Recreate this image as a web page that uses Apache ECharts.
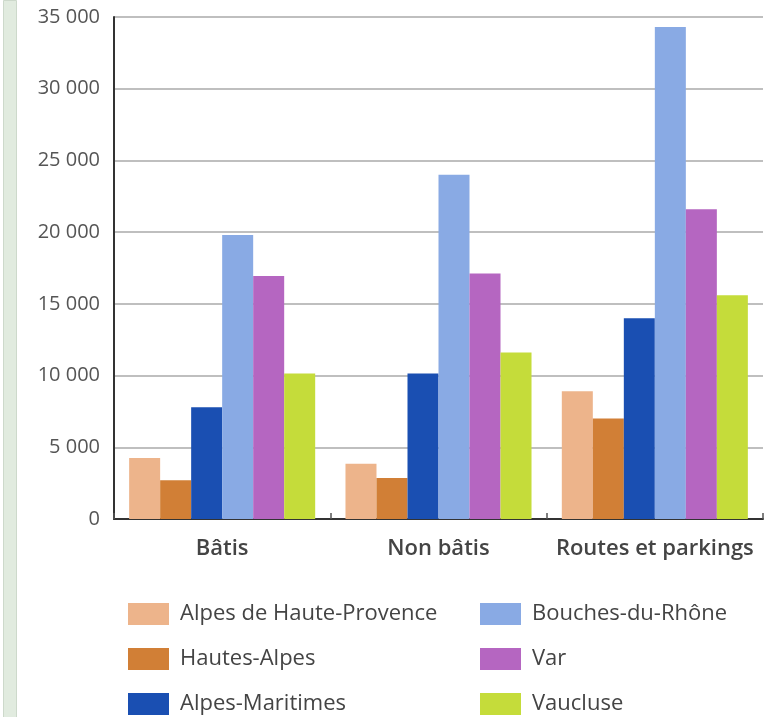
<!DOCTYPE html>
<html>
<head>
<meta charset="utf-8">
<script src="https://cdn.jsdelivr.net/npm/echarts@6/dist/echarts.min.js"></script>
<style>
  html, body { margin: 0; padding: 0; background: #fff; }
  #chart { width: 778px; height: 717px; }
</style>
</head>
<body>
<div id="chart"></div>
<script>
var categories = ['Bâtis', 'Non bâtis', 'Routes et parkings'];
var seriesNames = ['Alpes de Haute-Provence', 'Hautes-Alpes', 'Alpes-Maritimes', 'Bouches-du-Rhône', 'Var', 'Vaucluse'];
var colors = ['#edb48b', '#d17f36', '#1a4fb2', '#89aae4', '#b566c1', '#c5dc3a'];

var alpesHauteProvence = [4250, 3850, 8900];
var hautesAlpes = [2700, 2850, 7000];
var alpesMaritimes = [7800, 10150, 14000];
var bouchesDuRhone = [19800, 24000, 34300];
var varDept = [16950, 17120, 21600];
var vaucluse = [10150, 11600, 15600];

var values = [alpesHauteProvence, hautesAlpes, alpesMaritimes, bouchesDuRhone, varDept, vaucluse];

var dom = document.getElementById('chart');
var myChart = echarts.init(dom);

var textFont = '"Open Sans", "Noto Sans", sans-serif';

var series = seriesNames.map(function (name, i) {
    return {
        name: name,
        type: 'bar',
        data: values[i],
        barGap: '0%',
        barCategoryGap: '14%',
        itemStyle: { color: colors[i] }
    };
});

var legendStyle = {
    orient: 'vertical',
    top: 603,
    padding: 0,
    itemWidth: 41,
    itemHeight: 22,
    itemGap: 23,
    icon: 'rect',
    selectedMode: false,
    textStyle: { fontSize: 22, color: '#444', fontFamily: textFont, padding: [0, 0, 0, 6] }
};

var option = {
    animation: false,
    backgroundColor: '#fff',
    grid: { left: 114, right: 15, top: 17, bottom: 198 },
    legend: [
        Object.assign({ left: 128, data: seriesNames.slice(0, 3) }, legendStyle),
        Object.assign({ left: 480, data: seriesNames.slice(3) }, legendStyle)
    ],
    xAxis: {
        type: 'category',
        data: categories,
        axisLine: { lineStyle: { color: '#333', width: 2 } },
        axisTick: { show: true, inside: true, length: 6, lineStyle: { color: '#555', width: 1.5 } },
        axisLabel: { interval: 0, margin: 19, fontSize: 22, color: '#444', fontFamily: textFont, fontWeight: 600 }
    },
    yAxis: {
        type: 'value',
        min: 0,
        max: 35000,
        interval: 5000,
        axisLine: { show: true, lineStyle: { color: '#333', width: 2 } },
        axisTick: { show: false },
        splitLine: { lineStyle: { color: '#aaa', width: 1.5 } },
        axisLabel: {
            margin: 14,
            fontSize: 20,
            color: '#555',
            fontFamily: textFont,
            formatter: function (v) {
                return String(v).replace(/\B(?=(\d{3})+(?!\d))/g, ' ');
            }
        }
    },
    graphic: [
        {
            type: 'rect',
            left: 3,
            top: 0,
            shape: { width: 13, height: 717 },
            style: { fill: '#e1ebdf', stroke: '#cdd9cb', lineWidth: 1 },
            silent: true
        }
    ],
    series: series
};

myChart.setOption(option);
</script>
</body>
</html>
